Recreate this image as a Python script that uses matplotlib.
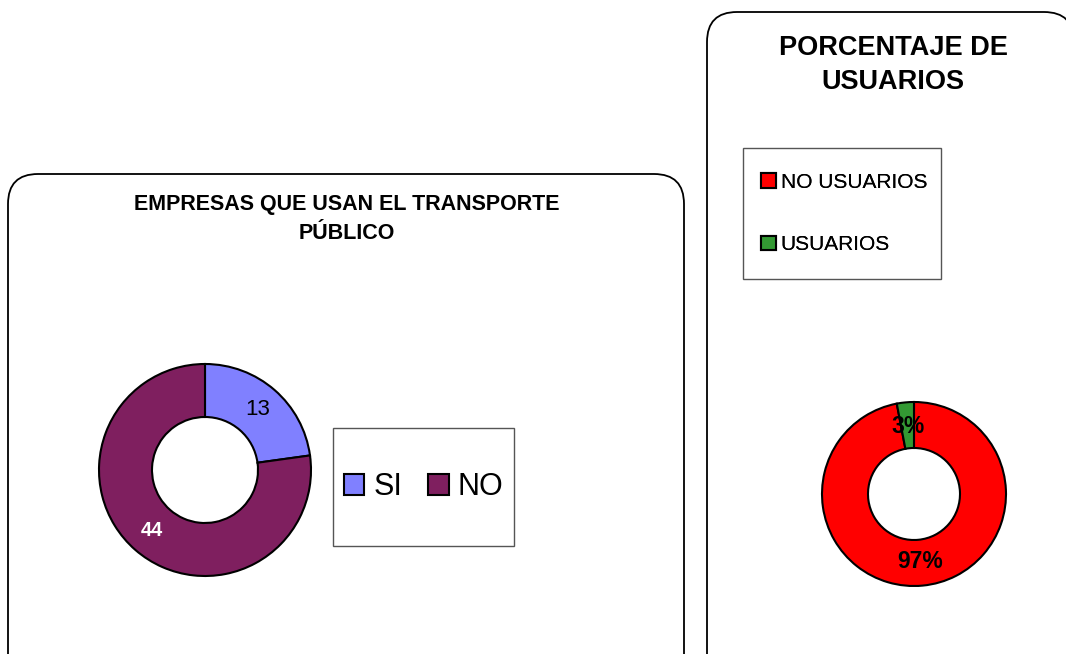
import matplotlib
matplotlib.use('Agg')
import matplotlib.pyplot as plt
from matplotlib.patches import FancyBboxPatch, Rectangle

plt.rcParams['font.family'] = ['Liberation Sans', 'DejaVu Sans']

# datos
empresas_labels = ['SI', 'NO']
empresas_vals = [13, 44]
empresas_colors = ['#8080FF', '#7F1F5F']

usuarios_labels = ['NO USUARIOS', 'USUARIOS']
usuarios_pct = [97, 3]
usuarios_colors = ['#FF0000', '#339933']

W, H = 1066, 654


def py(y):
    # pixel y (desde arriba) -> coordenada de datos
    return H - y


fig = plt.figure(figsize=(W / 100, H / 100), dpi=100)
ax = fig.add_axes([0, 0, 1, 1])
ax.set_xlim(0, W)
ax.set_ylim(0, H)
ax.set_aspect('equal')
ax.axis('off')

# cajas redondeadas
for x0, y0, x1 in [(8, 174, 684), (707, 12, 1074)]:
    box = FancyBboxPatch((x0, py(700)), x1 - x0, 700 - y0,
                         boxstyle='round,pad=0,rounding_size=30',
                         fc='white', ec='black', lw=1.3)
    ax.add_patch(box)

# grafico izquierdo
wedges1, _, txt1 = ax.pie(empresas_vals, colors=empresas_colors, startangle=90,
                          counterclock=False, center=(205, py(470)), radius=106,
                          autopct=lambda p: '%d' % round(p * sum(empresas_vals) / 100),
                          pctdistance=0.76, frame=True,
                          wedgeprops=dict(width=53, edgecolor='black', linewidth=1.5))
txt1[0].set_fontsize(16)
txt1[0].set_color('black')
txt1[1].set_fontsize(14.5)
txt1[1].set_color('white')
txt1[1].set_fontweight('bold')

ax.text(347, py(219), 'EMPRESAS QUE USAN EL TRANSPORTE\nPÚBLICO', ha='center', va='center',
        fontsize=15.5, fontweight='bold', linespacing=1.45)

ax.add_patch(Rectangle((333, py(546)), 181, 118, fc='white', ec='#555555', lw=1))
leg1 = ax.legend(wedges1, empresas_labels, loc='center', ncol=2, frameon=False,
                 bbox_to_anchor=(333, py(546), 181, 118), bbox_transform=ax.transData,
                 fontsize=22, handlelength=0.67, handleheight=0.67,
                 handletextpad=0.3, columnspacing=0.85)
ax.add_artist(leg1)

# grafico derecho
wedges2, _, txt2 = ax.pie(usuarios_pct, colors=usuarios_colors, startangle=90,
                          counterclock=False, center=(914, py(494)), radius=92,
                          autopct='%d%%', pctdistance=0.74, frame=True,
                          wedgeprops=dict(width=46, edgecolor='black', linewidth=1.5))
for t in txt2:
    t.set_fontsize(16.5)
    t.set_fontweight('bold')
    t.set_color('black')

ax.text(893, py(65), 'PORCENTAJE DE\nUSUARIOS', ha='center', va='center',
        fontsize=19.5, fontweight='bold', linespacing=1.38)

ax.add_patch(Rectangle((743, py(279)), 198, 131, fc='white', ec='#555555', lw=1))
leg2 = ax.legend(wedges2, usuarios_labels, loc='center left', frameon=False,
                 bbox_to_anchor=(742, py(279), 190, 131), bbox_transform=ax.transData,
                 fontsize=15, handlelength=0.71, handleheight=0.71,
                 handletextpad=0.25, labelspacing=2.1)
ax.add_artist(leg2)

ax.set_xlim(0, W)
ax.set_ylim(0, H)
ax.axis('off')

fig.savefig('out.png', dpi=100)
